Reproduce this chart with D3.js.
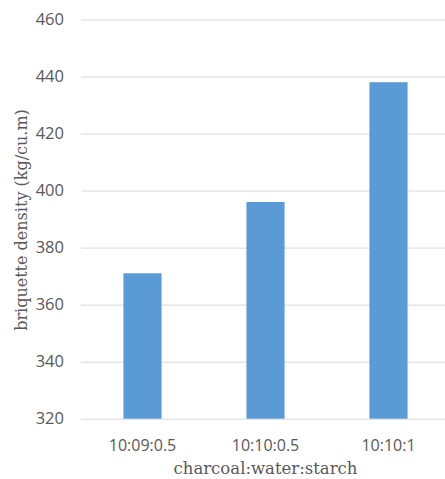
<!DOCTYPE html>
<html>
<head>
<meta charset="utf-8">
<script src="https://cdn.jsdelivr.net/npm/d3@7"></script>
<style>
  html, body { margin: 0; padding: 0; background: #fff; }
  svg { display: block; }
</style>
</head>
<body>
<svg id="chart" width="445" height="479"></svg>
<script>
// Briquette density by mix ratio
const categories = ["10:09:0.5", "10:10:0.5", "10:10:1"];
const densities = [371, 396, 438];
const yTicks = [320, 340, 360, 380, 400, 420, 440, 460];
const xTitle = "charcoal:water:starch";
const yTitle = "briquette density (kg/cu.m)";

const svg = d3.select("#chart");
const plot = { left: 81, right: 450, top: 19.5, bottom: 418.7 };

const x = d3.scaleBand()
  .domain(categories)
  .range([plot.left, plot.right])
  .paddingInner(0.69)
  .paddingOuter(0.345);

const y = d3.scaleLinear()
  .domain([320, 460])
  .range([plot.bottom, plot.top]);

const textColor = "#595959";
const tickFont = "'Open Sans', 'Noto Sans', sans-serif";
const titleFont = "'DejaVu Serif', serif";

// horizontal gridlines and value labels
const yAxis = d3.axisLeft(y).tickValues(yTicks).tickSize(-(plot.right - plot.left)).tickPadding(17);
const gy = svg.append("g").attr("transform", `translate(${plot.left},0)`).call(yAxis);
gy.select(".domain").remove();
gy.selectAll(".tick line").attr("stroke", "#d9d9d9").attr("stroke-width", 1);
gy.selectAll(".tick text")
  .attr("fill", textColor)
  .style("font-family", tickFont)
  .style("font-size", "16.5px");

// bars
svg.append("g").selectAll("rect")
  .data(categories.map((c, i) => ({ c, v: densities[i] })))
  .join("rect")
  .attr("x", d => x(d.c))
  .attr("width", x.bandwidth())
  .attr("y", d => y(d.v))
  .attr("height", d => y(320) - y(d.v))
  .attr("fill", "#5b9bd5");

// category axis
const xAxis = d3.axisBottom(x).tickSize(0).tickPadding(21);
const gx = svg.append("g").attr("transform", `translate(0,${plot.bottom})`).call(xAxis);
gx.select(".domain").remove();
gx.selectAll(".tick text")
  .attr("fill", textColor)
  .style("font-family", tickFont)
  .style("font-size", "16px");

// axis titles
svg.append("text")
  .attr("x", (plot.left + plot.right) / 2)
  .attr("y", 474)
  .attr("text-anchor", "middle")
  .attr("fill", textColor)
  .style("font-family", titleFont)
  .style("font-size", "16.5px")
  .text(xTitle);

svg.append("text")
  .attr("transform", `translate(27,220) rotate(-90)`)
  .attr("text-anchor", "middle")
  .attr("fill", textColor)
  .style("font-family", titleFont)
  .style("font-size", "16px")
  .text(yTitle);
</script>
</body>
</html>
